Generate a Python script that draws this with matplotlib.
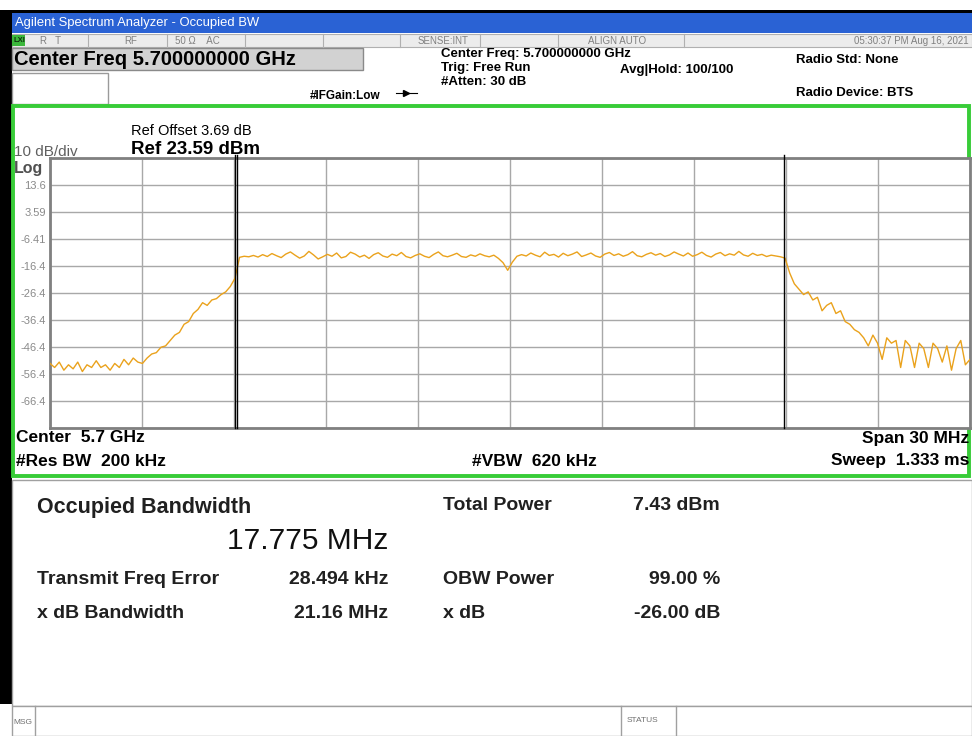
import numpy as np
import matplotlib.pyplot as plt
from matplotlib.patches import Rectangle

plt.rcParams['font.family'] = ['Liberation Sans', 'DejaVu Sans']

# ------------------------------------------------------------
# Trace (dBm), swept -15 .. +15 MHz around 5.7 GHz
# ------------------------------------------------------------
noise_left = [-52.5, -54.0, -52.0, -55.0, -53.0, -54.5, -52.0, -55.5, -53.0, -54.0,
              -51.5, -54.0, -53.0, -55.0, -52.5, -54.0, -51.0, -53.0, -50.5, -52.0]
rise_left = [-52.5, -50.5, -49.0, -48.5, -46.5, -46.0, -44.0, -42.0, -41.0, -38.0,
             -37.0, -34.0, -32.5, -30.0, -31.0, -29.0, -28.5, -27.0, -26.0, -24.0, -21.0]
plateau = [-13.2, -12.8, -13.0, -12.5, -13.1, -12.2, -12.9, -11.8, -12.6, -13.3,
           -12.0, -11.2, -12.4, -13.5, -12.7, -11.0, -12.3, -13.8, -13.0, -12.1,
           -12.8, -11.6, -13.4, -12.9, -11.3, -12.0, -13.1, -12.4, -13.6, -12.2,
           -11.5, -12.7, -13.2, -12.0, -12.6, -11.4, -12.9, -13.4, -12.5, -11.9,
           -12.8, -13.3, -12.1, -11.2, -12.6, -13.0, -12.4, -11.7, -12.9, -13.2,
           -12.3, -12.8, -11.9, -12.6, -13.0, -12.4, -13.6, -15.2, -18.0, -15.0,
           -12.8, -12.2, -12.7, -11.6, -12.4, -13.0, -11.3, -12.5, -12.1, -13.1,
           -11.7, -12.6, -12.0, -11.2, -12.9, -12.3, -11.6, -12.7, -13.2, -12.0,
           -11.4, -12.5, -11.9, -12.8, -12.2, -11.1, -12.6, -13.0, -12.1, -11.5,
           -12.4, -11.8, -12.9, -12.3, -11.2, -12.0, -12.7, -11.6, -12.8, -12.2,
           -11.3, -12.5, -13.1, -12.0, -11.4, -12.6, -11.9, -12.4, -11.0, -12.3,
           -12.8, -11.7, -12.5, -12.1, -12.9, -12.4, -12.7, -13.0]
fall_right = [-13.5, -19.0, -23.0, -25.0, -27.0, -26.0, -29.0, -28.0, -33.0, -31.0,
              -30.0, -34.0, -33.0, -37.0, -38.0, -40.0, -41.0, -43.0, -46.0, -42.0,
              -45.0, -51.0, -43.0, -45.0, -44.0, -54.0, -44.0, -46.0, -54.0, -45.0,
              -47.0, -54.0, -45.0, -47.0, -52.0, -46.0, -55.0, -47.0, -44.0, -53.0, -51.0]

trace = np.array(noise_left + rise_left + plateau + fall_right)
span_mhz = 30
freq_mhz = np.linspace(-span_mhz / 2, span_mhz / 2, len(trace))

ref_level = 23.59
db_per_div = 10
y_labels = ["13.6", "3.59", "-6.41", "-16.4", "-26.4", "-36.4", "-46.4", "-56.4", "-66.4"]
obw_mhz = 17.775

status_cells = [("R   T", 40), ("RF", 124), ("50 \u03a9    AC", 175), ("SENSE:INT", 418), ("ALIGN AUTO", 588)]
results_left = [("Transmit Freq Error", "28.494 kHz", 580), ("x dB Bandwidth", "21.16 MHz", 613)]
results_right = [("Total Power", "7.43 dBm", 505), ("OBW Power", "99.00 %", 580), ("x dB", "-26.00 dB", 613)]

# ------------------------------------------------------------
# Figure: a pixel-space background axes for the screen furniture
# ------------------------------------------------------------
W, H = 972, 736
fig = plt.figure(figsize=(W / 100, H / 100), dpi=100)
bg = fig.add_axes([0, 0, 1, 1])
bg.set_xlim(0, W)
bg.set_ylim(H, 0)
bg.axis("off")


def box(x, y, w, h, fc="white", ec="none", lw=1.0):
    bg.add_patch(Rectangle((x, y), w, h, facecolor=fc, edgecolor=ec, linewidth=lw))


def txt(x, y, s, size=10, weight="normal", color="black", ha="left"):
    bg.text(x, y, s, fontsize=size, fontweight=weight, color=color, ha=ha, va="center")


# outer frame
box(0, 10, 12, 694, fc="black")
box(0, 10, W, 3, fc="black")

# title bar
box(12, 13, W - 12, 20, fc="#2a62d4")
txt(15, 23, "Agilent Spectrum Analyzer - Occupied BW", size=9.4, color="white")

# status row
box(12, 34, W - 12, 13, fc="#ececec", ec="#b0b0b0", lw=0.8)
for xd in [88, 167, 245, 323, 400, 480, 558, 684]:
    bg.plot([xd, xd], [34, 47], color="#b0b0b0", lw=0.8)
box(12, 35, 13, 11, fc="#3cb83c")
txt(13, 40.5, "LXI", size=5.5, weight="bold", color="#103010")
for label, xs in status_cells:
    txt(xs, 40.5, label, size=7, color="#808080")
txt(969, 40.5, "05:30:37 PM Aug 16, 2021", size=7, color="#808080", ha="right")

# center freq box and header info
box(12, 48, 351, 22, fc="#d2d2d2", ec="#8a8a8a", lw=1)
txt(14, 59.5, "Center Freq 5.700000000 GHz", size=14.5, weight="bold")
box(12, 73, 96, 31, fc="white", ec="#9a9a9a", lw=1)
txt(310, 96, "#IFGain:Low", size=8.5, weight="bold")
bg.plot([396, 417], [93, 93], color="black", lw=0.8)
bg.plot([406], [93], marker=">", color="black", markersize=4)
txt(441, 54, "Center Freq: 5.700000000 GHz", size=9.5, weight="bold")
txt(441, 68, "Trig: Free Run", size=9.5, weight="bold")
txt(441, 82, "#Atten: 30 dB", size=9.5, weight="bold")
txt(620, 70, "Avg|Hold: 100/100", size=9.5, weight="bold")
txt(796, 60, "Radio Std: None", size=9.5, weight="bold")
txt(796, 93, "Radio Device: BTS", size=9.5, weight="bold")

# green measurement frame
box(13, 106, 956, 370, fc="white", ec="#38cc38", lw=2.8)

txt(131, 131, "Ref Offset 3.69 dB", size=10.5)
txt(131, 150, "Ref 23.59 dBm", size=13.5, weight="bold")
txt(14, 152, "10 dB/div", size=11, color="#606060")
txt(14, 168, "Log", size=11.5, weight="bold", color="#505050")

txt(16, 438, "Center  5.7 GHz", size=12.5, weight="bold")
txt(16, 461, "#Res BW  200 kHz", size=12.5, weight="bold")
txt(472, 461, "#VBW  620 kHz", size=12.5, weight="bold")
txt(969, 439, "Span 30 MHz", size=12.5, weight="bold", ha="right")
txt(969, 461, "Sweep  1.333 ms", size=12.5, weight="bold", ha="right")

# results panel
box(12, 480, W - 12, 226, fc="white", ec="#a0a0a0", lw=1)
txt(37, 507, "Occupied Bandwidth", size=15.5, weight="bold", color="#202020")
txt(388, 541, f"{obw_mhz:.3f} MHz", size=21.5, ha="right", color="#101010")
for label, value, yy in results_left:
    txt(37, yy, label, size=14, weight="bold", color="#202020")
    txt(388, yy, value, size=14, weight="bold", color="#202020", ha="right")
for label, value, yy in results_right:
    txt(443, yy, label, size=14, weight="bold", color="#202020")
    txt(720, yy, value, size=14, weight="bold", color="#202020", ha="right")

# message row
box(12, 706, W - 12, 30, fc="white", ec="#a0a0a0", lw=1)
for xd in [35, 621, 676]:
    bg.plot([xd, xd], [706, 736], color="#a0a0a0", lw=1)
txt(13, 722, "MSG", size=6, color="#707070")
txt(627, 720, "STATUS", size=6, color="#707070")

# ------------------------------------------------------------
# Spectrum plot
# ------------------------------------------------------------
ax = fig.add_axes([50 / W, 1 - 428 / H, 920 / W, 270 / H])
ax.set_xlim(-span_mhz / 2, span_mhz / 2)
bottom = ref_level - 10 * db_per_div
ax.set_ylim(bottom, ref_level)
ax.set_xticks(np.linspace(-span_mhz / 2, span_mhz / 2, 11))
ax.set_yticks(ref_level - db_per_div * np.arange(10, -1, -1))
ax.set_yticklabels([""] + y_labels[::-1] + [""])
ax.tick_params(length=0, labelbottom=False, labelsize=8, labelcolor="#8a8a8a", pad=3)
ax.grid(True, color="#a8a8a8", linewidth=1)
ax.set_axisbelow(True)
for sp in ax.spines.values():
    sp.set_color("#808080")
    sp.set_linewidth(2)

ax.plot(freq_mhz, trace, color="#eaa21c", linewidth=1.0, zorder=3)

half = obw_mhz / 2
for xm in [-half - 0.09, -half, half + 0.05]:
    ax.plot([xm, xm], [bottom, ref_level + 1.2], color="black", linewidth=1.0,
            clip_on=False, zorder=4)

fig.savefig("out.png", dpi=100)
